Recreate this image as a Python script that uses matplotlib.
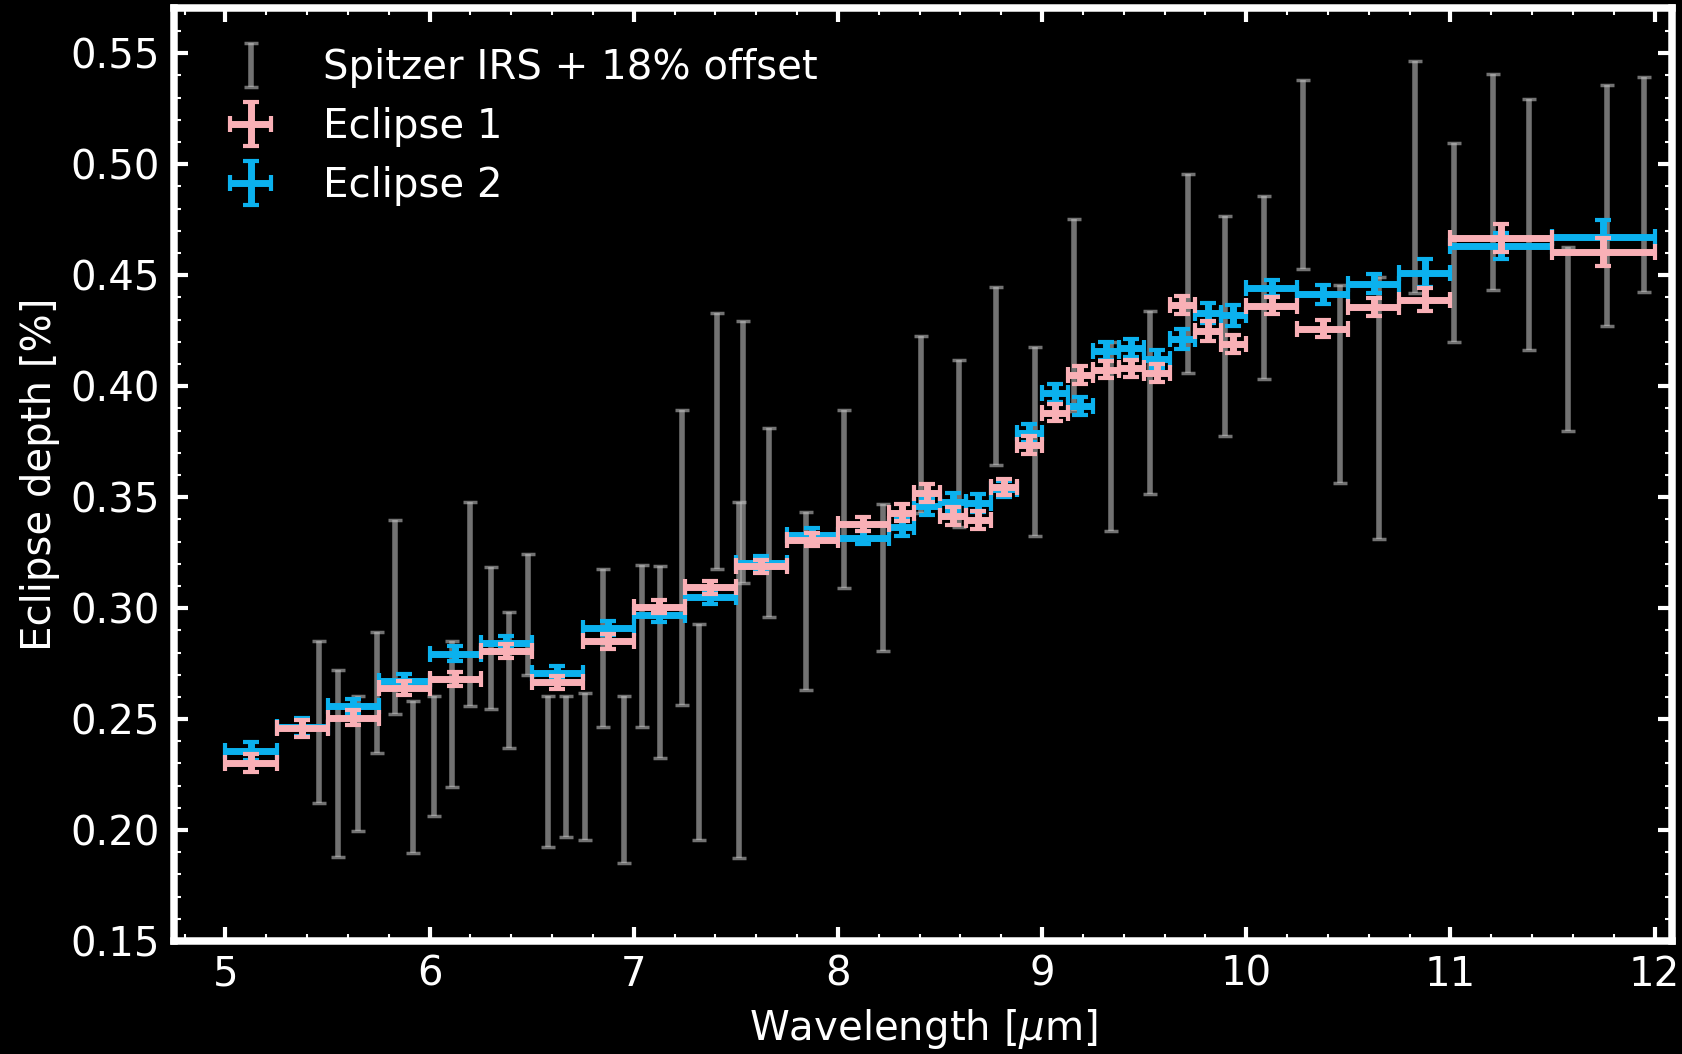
import matplotlib
matplotlib.use("Agg")
import matplotlib.pyplot as plt
from matplotlib.legend_handler import HandlerErrorbar

# Spitzer IRS spectrum (already shifted by +18%)
irs_wl = [5.46, 5.55, 5.65, 5.74, 5.83, 5.92, 6.02, 6.11, 6.20, 6.30, 6.39, 6.48,
          6.58, 6.67, 6.76, 6.85, 6.95, 7.04, 7.13, 7.236, 7.32, 7.41, 7.515, 7.533,
          7.663, 7.845, 8.032, 8.223, 8.406, 8.595, 8.776, 8.967, 9.155, 9.338, 9.527,
          9.716, 9.898, 10.087, 10.278, 10.458, 10.650, 10.825, 11.016, 11.209,
          11.387, 11.575, 11.769, 11.947]
irs_depth = [0.2488, 0.2300, 0.2300, 0.2619, 0.2961, 0.2238, 0.2335, 0.2523, 0.3020,
             0.2866, 0.2676, 0.2973, 0.2264, 0.2287, 0.2287, 0.2820, 0.2228, 0.2830,
             0.2756, 0.3228, 0.2442, 0.3754, 0.2678, 0.3704, 0.3387, 0.3032, 0.3492,
             0.3138, 0.3827, 0.3741, 0.4047, 0.3752, 0.4322, 0.3774, 0.3928, 0.4508,
             0.4271, 0.4446, 0.4955, 0.4009, 0.3903, 0.4942, 0.4648, 0.4920, 0.4729,
             0.4213, 0.4815, 0.4908]
irs_err = [0.0366, 0.0423, 0.0306, 0.0272, 0.0437, 0.0342, 0.0271, 0.0331, 0.0460,
           0.0320, 0.0307, 0.0273, 0.0342, 0.0319, 0.0331, 0.0356, 0.0377, 0.0366,
           0.0432, 0.0666, 0.0485, 0.0578, 0.0802, 0.0590, 0.0425, 0.0400, 0.0402,
           0.0332, 0.0399, 0.0377, 0.0402, 0.0425, 0.0432, 0.0427, 0.0412, 0.0448,
           0.0497, 0.0413, 0.0425, 0.0447, 0.0591, 0.0522, 0.0450, 0.0486, 0.0566,
           0.0414, 0.0543, 0.0485]

# spectroscopic bins (centre, half width)
bin_wl = [5.125, 5.375, 5.625, 5.875, 6.125, 6.375, 6.625, 6.875, 7.125, 7.375,
          7.625, 7.875, 8.125,
          8.3125, 8.4375, 8.5625, 8.6875, 8.8125, 8.9375, 9.0625, 9.1875, 9.3125,
          9.4375, 9.5625, 9.6875, 9.8125, 9.9375,
          10.125, 10.375, 10.625, 10.875, 11.25, 11.75]
bin_hw = [0.125, 0.125, 0.125, 0.125, 0.125, 0.125, 0.125, 0.125, 0.125, 0.125,
          0.125, 0.125, 0.125,
          0.0625, 0.0625, 0.0625, 0.0625, 0.0625, 0.0625, 0.0625, 0.0625, 0.0625,
          0.0625, 0.0625, 0.0625, 0.0625, 0.0625,
          0.125, 0.125, 0.125, 0.125, 0.25, 0.25]

ecl1_depth = [0.2302, 0.2458, 0.2507, 0.2640, 0.2680, 0.2808, 0.2665, 0.2850, 0.3007,
              0.3094, 0.3188, 0.3308, 0.3379,
              0.3429, 0.3519, 0.3415, 0.3397, 0.3545, 0.3734, 0.3881, 0.4051, 0.4075,
              0.4080, 0.4061, 0.4366, 0.4247, 0.4190,
              0.4363, 0.4259, 0.4358, 0.4390, 0.4669, 0.4604]
ecl1_err = [0.0040, 0.0038, 0.0034, 0.0030, 0.0030, 0.0032, 0.0030, 0.0032, 0.0030,
            0.0030, 0.0030, 0.0030, 0.0030,
            0.0038, 0.0040, 0.0040, 0.0040, 0.0036, 0.0040, 0.0040, 0.0040, 0.0040,
            0.0040, 0.0040, 0.0040, 0.0045, 0.0040,
            0.0038, 0.0038, 0.0041, 0.0053, 0.0064, 0.0064]

ecl2_depth = [0.2355, 0.2465, 0.2557, 0.2673, 0.2794, 0.2845, 0.2707, 0.2910, 0.2967,
              0.3048, 0.3205, 0.3330, 0.3318,
              0.3365, 0.3458, 0.3477, 0.3473, 0.3538, 0.3788, 0.3969, 0.3912, 0.4157,
              0.4173, 0.4124, 0.4213, 0.4328, 0.4319,
              0.4442, 0.4415, 0.4461, 0.4510, 0.4632, 0.4674]
ecl2_err = [0.0040, 0.0040, 0.0032, 0.0030, 0.0034, 0.0030, 0.0030, 0.0032, 0.0030,
            0.0030, 0.0030, 0.0030, 0.0030,
            0.0038, 0.0040, 0.0040, 0.0040, 0.0036, 0.0040, 0.0040, 0.0040, 0.0040,
            0.0040, 0.0040, 0.0045, 0.0045, 0.0047,
            0.0035, 0.0043, 0.0043, 0.0063, 0.0060, 0.0075]

pink = '#f9b0b6'
blue = '#0bb1ee'

plt.rcParams['font.size'] = 29
plt.rcParams['text.color'] = 'white'
plt.rcParams['axes.labelcolor'] = 'white'

fig = plt.figure(figsize=(16.83, 10.54), dpi=100, facecolor='black')
ax = fig.add_axes([0.1034, 0.1072, 0.8901, 0.8852], facecolor='black')

ax.errorbar(irs_wl, irs_depth, yerr=irs_err, fmt='none', ecolor='silver',
            alpha=0.6, elinewidth=4, capsize=5, capthick=2.5,
            label='Spitzer IRS + 18% offset', zorder=1)
ax.errorbar(bin_wl, ecl2_depth, xerr=bin_hw, yerr=ecl2_err, fmt='none',
            ecolor=blue, elinewidth=5, capsize=6, capthick=3,
            label='Eclipse 2', zorder=2)
ax.errorbar(bin_wl, ecl1_depth, xerr=bin_hw, yerr=ecl1_err, fmt='none',
            ecolor=pink, elinewidth=5, capsize=6, capthick=3,
            label='Eclipse 1', zorder=3)

ax.set_xlim(4.748, 12.086)
ax.set_ylim(0.15, 0.5704)
ax.set_xticks([5, 6, 7, 8, 9, 10, 11, 12])
ax.set_yticks([0.15, 0.20, 0.25, 0.30, 0.35, 0.40, 0.45, 0.50, 0.55])
ax.set_yticklabels(['0.15', '0.20', '0.25', '0.30', '0.35', '0.40', '0.45',
                    '0.50', '0.55'])
ax.xaxis.set_minor_locator(matplotlib.ticker.MultipleLocator(0.2))
ax.yaxis.set_minor_locator(matplotlib.ticker.MultipleLocator(0.01))

ax.tick_params(which='both', direction='in', top=True, right=True,
               colors='white', pad=10)
ax.tick_params(which='major', length=10, width=3)
ax.tick_params(which='minor', length=5, width=1.5)
for sp in ax.spines.values():
    sp.set_color('white')
    sp.set_linewidth(5.4)

ax.set_xlabel(r'Wavelength [$\mu$m]', labelpad=9)
ax.set_ylabel('Eclipse depth [%]', labelpad=8)

handles, labels = ax.get_legend_handles_labels()
order = [0, 2, 1]
ax.legend([handles[i] for i in order], [labels[i] for i in order],
          loc='upper left', bbox_to_anchor=(0.0, 0.996), frameon=False,
          labelspacing=0.47,
          handler_map={type(handles[0]): HandlerErrorbar(xerr_size=0.5, yerr_size=0.55)})

fig.savefig('out.png', dpi=100, facecolor='black')
